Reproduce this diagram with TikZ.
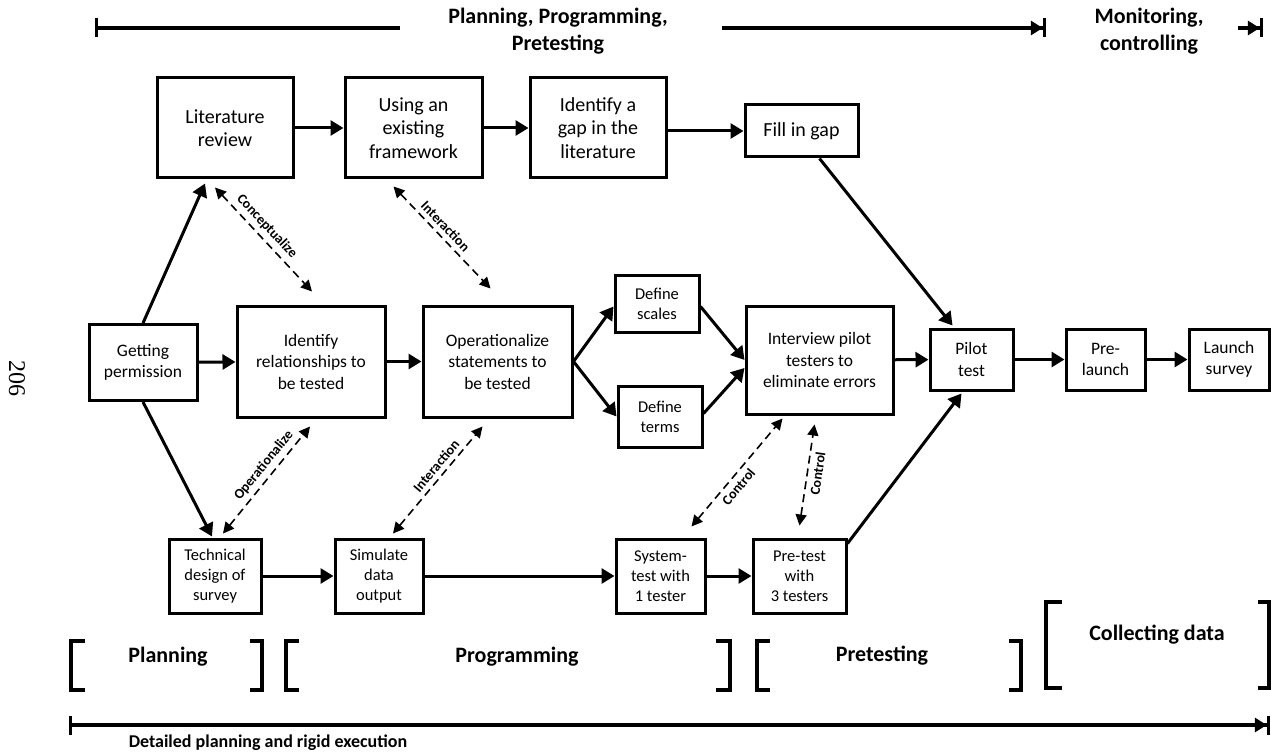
\documentclass[tikz,border=0pt]{standalone}
\usepackage{fontspec}
\setmainfont{Carlito}
\newfontfamily\pagefont{Liberation Serif}
\usetikzlibrary{arrows.meta,calc}

\tikzset{
  box/.style={draw, line width=3pt, align=center, inner sep=0pt,
              font=\fontsize{17.5}{21.5}\selectfont},
  bigtext/.style={font=\fontsize{20}{23.5}\selectfont},
  smalltext/.style={font=\fontsize{16.5}{20}\selectfont},
  flow/.style={line width=3pt, -{Triangle[length=13pt,width=15pt]}},
  link/.style={line width=1.6pt, dash pattern=on 8pt off 5pt,
               {Triangle[length=11pt,width=11pt]}-{Triangle[length=11pt,width=11pt]}},
  linklabel/.style={font=\bfseries\fontsize{14}{16}\selectfont, sloped, inner sep=4.5pt},
  phase/.style={font=\bfseries\fontsize{22}{27}\selectfont, align=center, inner sep=0pt},
  bracket/.style={line width=4.5pt},
  timeline/.style={line width=3.2pt},
  startbar/.style={{Bar[width=19pt]}-},
  endtip/.style={-{Triangle[length=12pt,width=14pt]Bar[width=19pt]}},
}

\begin{document}
\begin{tikzpicture}[x=1pt,y=-1pt]
\useasboundingbox (0,0) rectangle (1271,754);

% page number in the margin
\node[rotate=-90, font=\pagefont\fontsize{24}{28}\selectfont] (pageno) at (17,378) {206};

% ---- top time line ----
\node[phase] (ppp) at (558,31.5) {Planning, Programming,\\Pretesting};
\node[phase] (mon) at (1149,31.5) {Monitoring,\\controlling};
\coordinate (t0) at (95,28);
\coordinate (t1) at (400,28);
\coordinate (t2) at (722,28);
\coordinate (t3) at (1046,28);
\coordinate (t4) at (1238,28);
\coordinate (t5) at (1263,28);
\draw[timeline, startbar] (t0) -- (t1);
\draw[timeline, endtip] (t2) -- (t3);
\draw[timeline, endtip] (t4) -- (t5);

% ---- top row ----
\node[box, bigtext, minimum width=136pt, minimum height=100pt] (lit) at (225,128) {Literature\\review};
\node[box, bigtext, minimum width=137pt, minimum height=100pt] (use) at (413.5,128) {Using an\\existing\\framework};
\node[box, bigtext, minimum width=136pt, minimum height=100pt] (gap) at (598,128) {Identify a\\gap in the\\literature};
\node[box, bigtext, minimum width=113pt, minimum height=52pt] (fill) at (801.5,131) {Fill in gap};

% ---- middle row ----
\node[box, minimum width=108pt, minimum height=76pt] (perm) at (143,362.5) {Getting\\permission};
\node[box, minimum width=148pt, minimum height=111pt] (rel) at (311,361.5) {Identify\\relationships to\\be tested};
\node[box, minimum width=149pt, minimum height=111pt] (op) at (497.5,361.5) {Operationalize\\statements to\\be tested};
\node[box, smalltext, minimum width=84pt, minimum height=57pt] (scales) at (657,303.5) {Define\\scales};
\node[box, smalltext, minimum width=84pt, minimum height=61pt] (terms) at (660,416.5) {Define\\terms};
\node[box, minimum width=147pt, minimum height=108pt] (int) at (819.5,360) {Interview pilot\\testers to\\eliminate errors};
\node[box, minimum width=83pt, minimum height=61pt] (pilot) at (971.5,359.5) {Pilot\\test};
\node[box, minimum width=79pt, minimum height=61pt] (pre) at (1105.5,359.5) {Pre-\\launch};
\node[box, minimum width=80pt, minimum height=61pt] (launch) at (1229,359.5) {Launch\\survey};

% ---- bottom row ----
\node[box, smalltext, minimum width=92pt, minimum height=74pt] (tech) at (215,576) {Technical\\design of\\survey};
\node[box, smalltext, minimum width=88pt, minimum height=74pt] (sim) at (379,576) {Simulate\\data\\output};
\node[box, smalltext, minimum width=89pt, minimum height=74pt] (sys) at (660.5,576) {System-\\test with\\1 tester};
\node[box, smalltext, minimum width=93pt, minimum height=74pt] (pret) at (799.5,576) {Pre-test\\with\\3 testers};

% ---- solid flow ----
\draw[flow] (lit) -- (use);
\draw[flow] (use) -- (gap);
\draw[flow] (fill.west -| gap.east) -- (fill.west);
\draw[flow] (perm) -- (rel);
\draw[flow] (rel) -- (op);
\draw[flow] (int) -- (pilot);
\draw[flow] (pilot) -- (pre);
\draw[flow] (pre) -- (launch);
\draw[flow] (tech) -- (sim);
\draw[flow] (sim) -- (sys);
\draw[flow] (sys) -- (pret);
\draw[flow] (perm.north) -- ([xshift=-20pt,yshift=-4pt]lit.south);
\draw[flow] (perm.south) -- ([xshift=-3pt,yshift=1pt]tech.north);
\draw[flow] ([xshift=18pt]fill.south) -- ([xshift=-19pt,yshift=2pt]pilot.north);
\draw[flow] ([yshift=-6pt]pret.north east) -- ([xshift=-10pt,yshift=-2pt]pilot.south);
\draw[flow] (op.east) -- ([yshift=-3pt]scales.west);
\draw[flow] (op.east) -- (terms.west);
\draw[flow] ([yshift=-3pt]scales.east) -- (int.west);
\draw[flow] ([yshift=3pt]terms.east) -- ([yshift=-8pt]int.west);

% ---- dashed two-way links ----
\draw[link] ([xshift=-10pt,yshift=-8pt]lit.south) -- ([xshift=1pt,yshift=13pt]rel.north)
  node[linklabel, above, pos=0.45] {Conceptualize};
\draw[link] ([xshift=-20pt,yshift=-7pt]use.south) -- ([xshift=-7pt,yshift=16pt]op.north)
  node[linklabel, above, pos=0.46] {Interaction};
\draw[link] ([xshift=8pt,yshift=4pt]tech.north) -- ([xshift=-1pt,yshift=-8pt]rel.south)
  node[linklabel, above, pos=0.57] {Operationalize};
\draw[link] ([xshift=14pt,yshift=4pt]sim.north) -- ([xshift=-15pt,yshift=-8pt]op.south)
  node[linklabel, above, pos=0.57] {Interaction};
\draw[link] ([xshift=31pt,yshift=11pt]sys.north) -- ([xshift=-37pt,yshift=-3pt]int.south)
  node[linklabel, below, pos=0.43] {Control};
\draw[link] ([yshift=12pt]pret.north) -- ([xshift=-5pt,yshift=-9pt]int.south)
  node[linklabel, below, pos=0.53] {Control};

% ---- phase brackets ----
\draw[bracket] (85,641) -- (71,641) -- (71,690) -- (85,690);
\draw[bracket] (250,641) -- (262,641) -- (262,690) -- (250,690);
\draw[bracket] (299,641) -- (286,641) -- (286,690) -- (299,690);
\draw[bracket] (716,641) -- (730,641) -- (730,690) -- (716,690);
\draw[bracket] (770,641) -- (757,641) -- (757,690) -- (770,690);
\draw[bracket] (1009,641) -- (1021,641) -- (1021,690) -- (1009,690);
\draw[bracket] (1062,602) -- (1046,602) -- (1046,688) -- (1062,688);
\draw[bracket] (1258,602) -- (1269,602) -- (1269,688) -- (1258,688);
\node[phase] (plan) at (168,657) {Planning};
\node[phase] (prog) at (517,657) {Programming};
\node[phase] (ptest) at (882,656) {Pretesting};
\node[phase] (coll) at (1157,635) {Collecting data};

% ---- bottom time line ----
\coordinate (b0) at (69,725);
\coordinate (b1) at (1270,725);
\draw[timeline, {Bar[width=19pt]}-{Triangle[length=12pt,width=14pt]Bar[width=19pt]}] (b0) -- (b1);
\node[font=\bfseries\fontsize{18}{21}\selectfont, inner sep=0pt] (exec) at (268,743) {Detailed planning and rigid execution};
\end{tikzpicture}
\end{document}
